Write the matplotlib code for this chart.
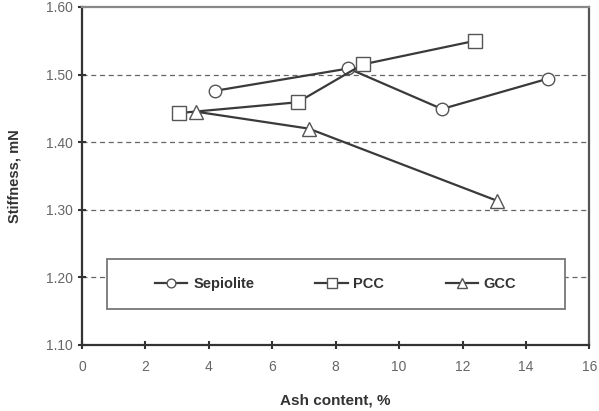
import matplotlib.pyplot as plt
from matplotlib.patches import Rectangle

# values
sep_x = [4.2, 8.4, 11.35, 14.7]
sep_y = [1.476, 1.509, 1.449, 1.494]
pcc_x = [3.05, 6.8, 8.85, 12.4]
pcc_y = [1.443, 1.459, 1.515, 1.550]
gcc_x = [3.6, 7.15, 13.1]
gcc_y = [1.445, 1.420, 1.313]

x_ticks = [0, 2, 4, 6, 8, 10, 12, 14, 16]
y_ticks = [1.10, 1.20, 1.30, 1.40, 1.50, 1.60]

plt.rcParams['font.family'] = ['Liberation Sans', 'DejaVu Sans']

fig = plt.figure(figsize=(5.99, 4.11), dpi=100)
ax = fig.add_axes([0.137, 0.161, 0.847, 0.822])

line_col = '#3a3a3a'
mk_edge = '#555555'
ax.plot(sep_x, sep_y, color=line_col, lw=1.6, marker='o', ms=9,
        mfc='white', mec=mk_edge, mew=1.0, label='Sepiolite', zorder=3)
ax.plot(pcc_x, pcc_y, color=line_col, lw=1.6, marker='s', ms=10,
        mfc='white', mec=mk_edge, mew=1.0, label='PCC', zorder=3)
ax.plot(gcc_x, gcc_y, color=line_col, lw=1.6, marker='^', ms=10,
        mfc='white', mec=mk_edge, mew=1.0, label='GCC', zorder=3)

ax.set_xlim(0, 16)
ax.set_ylim(1.10, 1.60)
ax.set_xticks(x_ticks)
ax.set_yticks(y_ticks)
ax.set_yticklabels(['%.2f' % v for v in y_ticks])
ax.tick_params(direction='inout', length=6, width=1.5, colors='#333333',
               labelcolor='#666666', labelsize=10)
ax.tick_params(axis='x', pad=8)

for v in y_ticks[1:-1]:
    ax.axhline(v, color='#666666', lw=0.9, ls=(0, (4, 3)), zorder=1)

for s in ax.spines.values():
    s.set_color('#333333')
    s.set_linewidth(1.6)
ax.spines['top'].set_color('#888888')
ax.spines['right'].set_color('#555555')

ax.set_ylabel('Stiffness, mN', fontsize=10.5, fontweight='bold', color='#333333', labelpad=18)
ax.set_xlabel('Ash content, %', fontsize=11, fontweight='bold', color='#333333', labelpad=14)

# legend box drawn separately, entries centred inside it
box = Rectangle((0.049, 0.107), 0.902, 0.147, transform=ax.transAxes,
                facecolor='white', edgecolor='#777777', lw=1.3, zorder=4)
ax.add_patch(box)
leg = ax.legend(loc='center', bbox_to_anchor=(0.5, 0.18), ncol=3,
                frameon=False, handlelength=2.2, markerscale=0.7,
                prop={'weight': 'bold', 'size': 10.5}, labelcolor='#333333',
                columnspacing=4.2, handletextpad=0.4)
leg.set_zorder(5)

fig.savefig('out.png', dpi=100)
